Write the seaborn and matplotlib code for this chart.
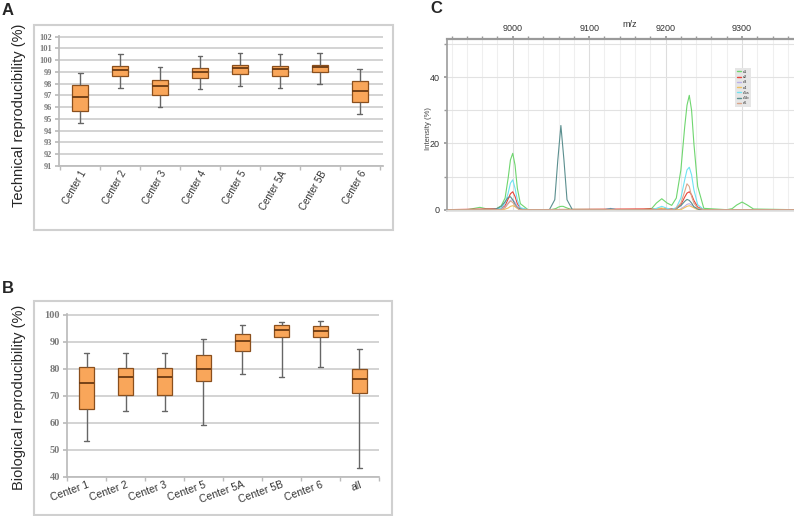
import matplotlib.pyplot as plt
import matplotlib.patches as mpatches
from matplotlib.ticker import MultipleLocator
import numpy as np
import pandas as pd
import seaborn as sns

# Panel A: technical reproducibility (box summaries)
tech_centers = ['Center 1', 'Center 2', 'Center 3', 'Center 4', 'Center 5', 'Center 5A', 'Center 5B', 'Center 6']
tech_min = [94.64, 97.63, 96.05, 97.51, 97.77, 97.66, 97.97, 95.43]
tech_q1 = [95.65, 98.64, 97.04, 98.50, 98.81, 98.67, 98.98, 96.44]
tech_med = [96.84, 99.12, 97.83, 99.01, 99.32, 99.21, 99.40, 97.35]
tech_q3 = [97.88, 99.46, 98.33, 99.32, 99.55, 99.52, 99.60, 98.25]
tech_max = [98.90, 100.50, 99.38, 100.34, 100.59, 100.56, 100.62, 99.26]

# Panel B: biological reproducibility
bio_centers = ['Center 1', 'Center 2', 'Center 3', 'Center 5', 'Center 5A', 'Center 5B', 'Center 6', 'all']
bio_min = [53.3, 64.3, 64.3, 59.3, 78.0, 77.0, 80.6, 43.4]
bio_q1 = [65.3, 70.5, 70.5, 75.6, 86.5, 91.8, 91.8, 71.0]
bio_med = [74.7, 77.0, 77.0, 80.0, 90.3, 94.5, 94.0, 76.4]
bio_q3 = [80.6, 80.3, 80.3, 85.3, 92.8, 96.2, 95.8, 80.0]
bio_max = [85.7, 85.7, 85.7, 91.0, 96.3, 97.3, 97.8, 87.5]

# Panel C: spectra
c1_mz = [8914, 8940, 8950, 8957, 8965, 8978, 8985, 8990, 8994, 8997, 9000, 9003, 9006, 9010, 9020, 9050, 9056, 9060, 9063, 9066, 9070, 9076, 9170, 9182, 9188, 9195, 9202, 9208, 9214, 9220, 9225, 9228, 9231, 9234, 9237, 9242, 9250, 9280, 9287, 9293, 9300, 9307, 9315, 9368]
c1_int = [0, 0, 0.4, 0.7, 0.3, 0.2, 1.2, 3.5, 9.5, 15, 17, 13.5, 6.5, 1.8, 0, 0, 0.3, 0.8, 1.0, 1.0, 0.6, 0.1, 0, 0.4, 2.0, 3.3, 2.0, 1.3, 3.5, 12, 25, 31.5, 34.5, 30, 20, 7, 0.4, 0, 0.3, 1.4, 2.3, 1.4, 0.2, 0]
c2_mz = [8914, 8985, 8990, 8994, 8997, 9000, 9003, 9006, 9010, 9020, 9214, 9220, 9225, 9228, 9231, 9234, 9237, 9242, 9250, 9368]
c2_int = [0, 0.3, 1.2, 3.2, 4.8, 5.4, 4.0, 1.8, 0.4, 0, 0.3, 1.5, 3.8, 5.0, 5.4, 4.5, 2.8, 0.8, 0, 0]
c3_mz = [8914, 8985, 8990, 8994, 8997, 9000, 9003, 9006, 9010, 9020, 9120, 9128, 9136, 9218, 9225, 9228, 9231, 9234, 9237, 9244, 9368]
c3_int = [0, 0.1, 0.8, 2.0, 2.8, 3.0, 2.2, 1.0, 0.2, 0, 0, 0.4, 0, 0, 1.0, 1.6, 1.8, 1.4, 0.8, 0, 0]
c4_mz = [8914, 8988, 8994, 8997, 9000, 9003, 9006, 9012, 9180, 9188, 9195, 9202, 9220, 9228, 9231, 9234, 9242, 9368]
c4_int = [0, 0, 0.5, 1.0, 1.2, 0.9, 0.4, 0, 0, 0.3, 0.5, 0, 0, 1.0, 1.2, 0.9, 0, 0]
c5a_mz = [8914, 8978, 8985, 8990, 8994, 8997, 9000, 9003, 9006, 9010, 9020, 9180, 9188, 9195, 9202, 9208, 9214, 9220, 9225, 9228, 9231, 9234, 9237, 9242, 9250, 9368]
c5a_int = [0, 0, 0.5, 2.0, 5.0, 8.0, 9.0, 6.5, 3.0, 0.6, 0, 0, 0.4, 1.0, 0.4, 0.1, 0.6, 3.5, 9.0, 12.0, 12.8, 10.5, 6.0, 1.5, 0, 0]
c5b_mz = [8914, 8970, 8978, 8985, 8990, 8994, 8997, 9000, 9003, 9006, 9012, 9048, 9055, 9059, 9063, 9067, 9071, 9078, 9120, 9128, 9136, 9212, 9220, 9225, 9228, 9231, 9234, 9237, 9244, 9368]
c5b_int = [0, 0, 0.2, 1.0, 2.4, 3.7, 3.9, 3.0, 1.6, 0.6, 0, 0, 3.0, 15, 25.4, 15, 3.0, 0, 0, 0.3, 0, 0, 1.2, 2.5, 3.1, 2.8, 2.0, 0.9, 0, 0]
c6_mz = [8914, 8985, 8990, 8994, 8997, 9000, 9003, 9008, 9212, 9220, 9225, 9228, 9231, 9234, 9237, 9242, 9250, 9368]
c6_int = [0, 0, 0.6, 1.8, 2.6, 2.2, 1.2, 0, 0, 2.0, 5.5, 7.8, 7.0, 4.0, 2.0, 0.5, 0, 0]

spectra = {'c1': (c1_mz, c1_int), 'c2': (c2_mz, c2_int), 'c3': (c3_mz, c3_int), 'c4': (c4_mz, c4_int),
           'c5a': (c5a_mz, c5a_int), 'c5b': (c5b_mz, c5b_int), 'c6': (c6_mz, c6_int)}
spec_colors = {'c1': '#6fd66f', 'c2': '#e8443a', 'c3': '#b9b0e8', 'c4': '#f0c060',
               'c5a': '#6fe3f2', 'c5b': '#5b8f8f', 'c6': '#dba58a'}

box_fill = '#f9a65a'
box_edge = '#8a4f1d'
W, H = 794, 516

sns.set_theme(style='white')
plt.rcParams['font.family'] = ['Liberation Sans', 'DejaVu Sans']


def box_frame(centers, lo, q1, med, q3, hi):
    rows = []
    for c, a, b, m, d, e in zip(centers, lo, q1, med, q3, hi):
        for v in (a, b, m, d, e):
            rows.append((c, v))
    return pd.DataFrame(rows, columns=['center', 'value'])


def draw_box(ax, df, order):
    sns.boxplot(data=df, x='center', y='value', order=order, ax=ax, whis=(0, 100),
                width=0.41, color=box_fill, saturation=1, linecolor=box_edge, linewidth=0.9,
                fliersize=0,
                medianprops=dict(color='#6b3a12', linewidth=1.3),
                whiskerprops=dict(color='#666666', linewidth=1.0),
                capprops=dict(color='#666666', linewidth=1.0))
    # short caps like the original: horizontal lines narrower than the box
    for ln in ax.lines:
        xs = np.asarray(ln.get_xdata(), dtype=float)
        ys = np.asarray(ln.get_ydata(), dtype=float)
        if len(xs) == 2 and ys[0] == ys[1] and 0 < abs(xs[1] - xs[0]) < 0.35:
            mid = xs.mean()
            ln.set_xdata([mid - 0.06, mid + 0.06])
    ax.yaxis.grid(True, color='#c8c8c8', lw=1.1)
    ax.set_axisbelow(True)
    for s in ['top', 'right']:
        ax.spines[s].set_visible(False)
    for s in ['left', 'bottom']:
        ax.spines[s].set_color('#bbbbbb')
    ax.set_xlabel('')
    ax.set_ylabel('')
    ax.set_xticks([i - 0.5 for i in range(len(order) + 1)], minor=True)
    ax.tick_params(axis='x', which='major', length=0, labelsize=7, colors='#333333', pad=2)
    ax.tick_params(axis='x', which='minor', length=3, color='#bbbbbb', direction='out', bottom=True)
    ax.tick_params(axis='y', length=3, color='#bbbbbb', direction='out', left=True, pad=2)


fig = plt.figure(figsize=(W / 100, H / 100), dpi=100)

# A
ax_a = fig.add_axes([59 / W, 1 - 166 / H, 324 / W, 130 / H])
draw_box(ax_a, box_frame(tech_centers, tech_min, tech_q1, tech_med, tech_q3, tech_max), tech_centers)
ax_a.set_ylim(91, 102.05)
ax_a.set_xlim(-0.53, 7.58)
ax_a.set_yticks(range(91, 103))
for t in ax_a.get_yticklabels():
    t.set_family('Liberation Serif'); t.set_fontweight('bold'); t.set_color('#7a7a7a'); t.set_fontsize(6)
plt.setp(ax_a.get_xticklabels(), rotation=60, ha='right', rotation_mode='anchor')

# B
ax_b = fig.add_axes([67 / W, 1 - 477 / H, 312 / W, 163 / H])
draw_box(ax_b, box_frame(bio_centers, bio_min, bio_q1, bio_med, bio_q3, bio_max), bio_centers)
ax_b.set_ylim(40, 100.3)
ax_b.set_xlim(-0.5, 7.5)
ax_b.set_yticks(range(40, 101, 10))
for t in ax_b.get_yticklabels():
    t.set_family('Liberation Serif'); t.set_fontweight('bold'); t.set_color('#7a7a7a'); t.set_fontsize(7.5)
plt.setp(ax_b.get_xticklabels(), rotation=20, ha='right', rotation_mode='anchor', fontsize=7.5)

# frames around A and B
for x0, y0, x1, y1 in [(34, 25, 393, 230), (34, 301, 392, 515)]:
    fig.add_artist(mpatches.Rectangle((x0 / W, 1 - y1 / H), (x1 - x0) / W, (y1 - y0) / H,
                                      transform=fig.transFigure, fill=False, ec='#d0d0d0', lw=1.5))

fig.text(19 / W, 1 - 115 / H, 'Technical reproducibility (%)', rotation=90, ha='center', va='center', fontsize=10.5)
fig.text(19 / W, 1 - 397 / H, 'Biological reproducibility (%)', rotation=90, ha='center', va='center', fontsize=10.5)
fig.text(2 / W, 1 - 3 / H, 'A', fontsize=12, fontweight='bold', va='top', ha='left')
fig.text(2 / W, 1 - 281 / H, 'B', fontsize=12, fontweight='bold', va='top', ha='left')
fig.text(430 / W, 1 - 1 / H, 'C', fontsize=12, fontweight='bold', va='top', ha='left')

# C
ax_c = fig.add_axes([447 / W, 1 - 211 / H, 347 / W, 172 / H])
long = pd.concat([pd.DataFrame({'mz': mz, 'intensity': it, 'series': k}) for k, (mz, it) in spectra.items()])
sns.lineplot(data=long, x='mz', y='intensity', hue='series', palette=spec_colors, estimator=None,
             sort=False, lw=0.8, ax=ax_c)
ax_c.set_xlim(8914, 9368)
ax_c.set_ylim(-0.4, 51.5)
ax_c.xaxis.tick_top()
ax_c.set_xticks([9000, 9100, 9200, 9300])
ax_c.xaxis.set_minor_locator(MultipleLocator(20))
ax_c.set_yticks([0, 20, 40])
ax_c.yaxis.set_minor_locator(MultipleLocator(10))
ax_c.tick_params(axis='x', which='both', top=True, bottom=False, length=2, color='#999999',
                 labelsize=6.5, colors='#333333', pad=2)
ax_c.tick_params(axis='y', which='both', left=True, length=2, color='#999999',
                 labelsize=6.5, colors='#333333', pad=3)
ax_c.grid(True, which='minor', axis='x', color='#efefef', lw=0.8)
ax_c.grid(True, which='major', axis='x', color='#dddddd', lw=0.8)
ax_c.grid(True, which='both', axis='y', color='#e2e2e2', lw=0.8)
ax_c.set_axisbelow(True)
ax_c.spines['top'].set_color('#9a9a9a')
ax_c.spines['top'].set_linewidth(1.6)
ax_c.spines['left'].set_color('#a0a0a0')
ax_c.spines['bottom'].set_color('#e0e0e0')
ax_c.spines['right'].set_visible(False)
ax_c.set_ylabel('')
ax_c.set_xlabel('m/z', fontsize=6.5, color='#333333')
ax_c.xaxis.set_label_position('top')
ax_c.xaxis.set_label_coords(0.527, 1.07)
fig.text(428 / W, 1 - 129 / H, 'Intensity (%)', rotation=90, ha='center', va='center', fontsize=5.5, color='#444444')
leg = ax_c.legend(loc='upper left', bbox_to_anchor=(0.823, 0.845), fontsize=3, handlelength=1.0,
                  handletextpad=0.4, labelspacing=0.3, borderpad=0.5, frameon=True, fancybox=False,
                  facecolor='#e6e6e6', edgecolor='none', framealpha=1, title=None)
for line in leg.get_lines():
    line.set_linewidth(1.0)

fig.savefig('out.png', dpi=100)
